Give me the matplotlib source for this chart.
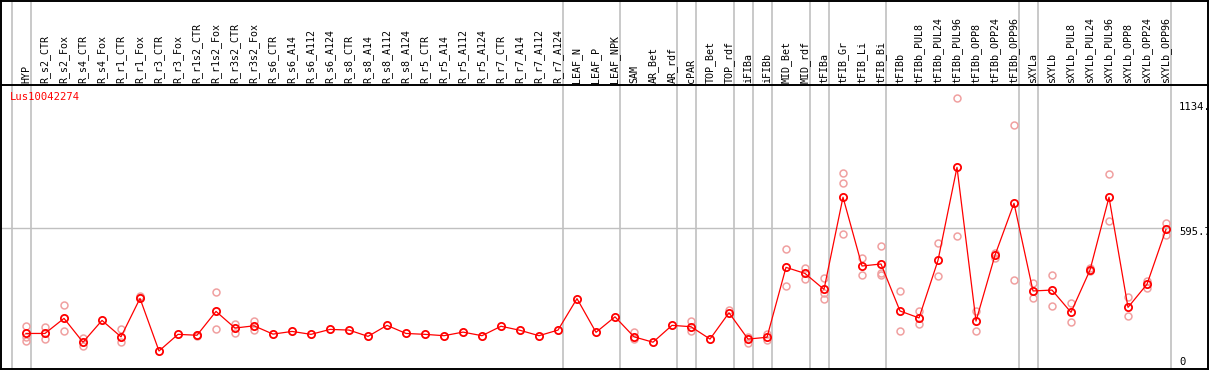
import matplotlib
matplotlib.use("Agg")
import matplotlib.pyplot as plt
from matplotlib.lines import Line2D

gene = "Lus10042274"

samples = ["HYP", "R_s2_CTR", "R_s2_Fox", "R_s4_CTR", "R_s4_Fox", "R_r1_CTR", "R_r1_Fox",
           "R_r3_CTR", "R_r3_Fox", "R_r1s2_CTR", "R_r1s2_Fox", "R_r3s2_CTR", "R_r3s2_Fox",
           "R_s6_CTR", "R_s6_A14", "R_s6_A112", "R_s6_A124", "R_s8_CTR", "R_s8_A14",
           "R_s8_A112", "R_s8_A124", "R_r5_CTR", "R_r5_A14", "R_r5_A112", "R_r5_A124",
           "R_r7_CTR", "R_r7_A14", "R_r7_A112", "R_r7_A124", "LEAF_N", "LEAF_P", "LEAF_NPK",
           "SAM", "AR_Bet", "AR_rdf", "cPAR", "TOP_Bet", "TOP_rdf", "iFIBa", "iFIBb",
           "MID_Bet", "MID_rdf", "tFIBa", "tFIB_Gr", "tFIB_Li", "tFIB_Bi", "tFIBb",
           "tFIBb_PUL8", "tFIBb_PUL24", "tFIBb_PUL96", "tFIBb_OPP8", "tFIBb_OPP24",
           "tFIBb_OPP96", "sXYLa", "sXYLb", "sXYLb_PUL8", "sXYLb_PUL24", "sXYLb_PUL96",
           "sXYLb_OPP8", "sXYLb_OPP24", "sXYLb_OPP96"]

means = [127, 127, 194, 88, 185, 112, 283, 49, 123, 119, 225, 151, 161,
         124, 136, 123, 145, 142, 114, 163, 127, 123, 117, 133, 117,
         159, 141, 117, 142, 282, 132, 201,
         112, 88, 163, 157, 102, 219, 102, 110,
         421, 394, 323, 733, 427, 436, 227,
         196, 452, 866, 182, 475, 706,
         316, 320, 221, 409, 733, 243, 346, 590]

replicates = [[160, 112, 95], [157, 101], [253, 136], [105, 71], [], [145, 88], [294, 287],
              [], [], [122, 116], [310, 145], [169, 130], [184, 142],
              [], [], [], [], [], [], [], [], [], [], [], [],
              [], [], [], [], [], [], [],
              [135, 101], [], [], [184, 139], [], [231], [112, 86], [124, 98],
              [501, 338], [416, 369], [372, 306, 279], [839, 795, 568], [461, 388],
              [516, 397, 388], [316, 138],
              [228, 167], [528, 382], [1173, 559], [227, 136], [486, 461], [1053, 365],
              [353, 286], [387, 248], [262, 178], [419, 405], [835, 627], [289, 203],
              [362, 329], [620, 565]]

# group separators sit before these sample indices
separators = [0, 1, 29, 32, 35, 36, 38, 39, 40, 42, 43, 46, 53, 54, 61]

W, H = 1209, 370
fig = plt.figure(figsize=(W / 100, H / 100), dpi=100)
mono = "DejaVu Sans Mono"

# plot area in pixels: x 1..1170, y 85..369 ; sample i at x = 26 + 19 i, value 0 at y = 362
px_per_unit = 0.2248
x_lo = (1 - 26) / 19
x_hi = (1170 - 26) / 19
y_lo = (362 - 369) / px_per_unit
y_hi = (362 - 85) / px_per_unit
ax = fig.add_axes([1 / W, 1 / H, 1169 / W, 284 / H])
ax.set_xlim(x_lo, x_hi)
ax.set_ylim(y_lo, y_hi)
ax.axis("off")

xs = list(range(len(samples)))
ax.axhline(595.7, color="#c0c0c0", lw=1, zorder=1)
top_ext = (369 - 0) / 284
for s in separators:
    ax.axvline(s - 14.5 / 19, ymin=0, ymax=top_ext, color="#c0c0c0", lw=1.2,
               clip_on=False, zorder=1)

for i, reps in enumerate(replicates):
    ax.plot([i] * len(reps), reps, "o", ms=5, mfc="none", mec="#f0a0a0", mew=1.1, zorder=2)
ax.plot(xs, means, color="red", lw=0.9, zorder=3)
ax.plot(xs, means, "o", ms=5.2, mfc="none", mec="red", mew=1.3, zorder=4)

lab_y = (369 - 83) / 284
for i, name in enumerate(samples):
    ax.text(i, lab_y, name, rotation=90, ha="center", va="bottom", family=mono,
            fontsize=7.2, transform=ax.get_xaxis_transform(), clip_on=False)

ax.text(x_lo + 9 / 19, (362 - 97) / px_per_unit, gene, color="red", family=mono,
        fontsize=7.6, va="center", ha="left")

# right-hand value labels (pixel offsets below the value)
for val, txt, dy in [(1134, "1134.", 0), (595.7, "595.7", 4), (0, "0", 0)]:
    ax.text(x_lo + 1178 / 19, val - dy / px_per_unit, txt, family=mono, fontsize=7.6,
            va="center", ha="left", clip_on=False)

# frame
frame = fig.add_axes([0, 0, 1, 1], facecolor="none")
frame.set_xlim(0, W)
frame.set_ylim(H, 0)
frame.axis("off")
for (x0, y0, x1, y1) in [(0.5, 0.5, 1208.5, 0.5), (0.5, 368.5, 1208.5, 368.5),
                         (1, 0, 1, 369), (1208, 0, 1208, 369), (0, 85, 1209, 85)]:
    frame.add_line(Line2D([x0, x1], [y0, y1], color="black", lw=1.4))

fig.savefig("out.png", dpi=100)
